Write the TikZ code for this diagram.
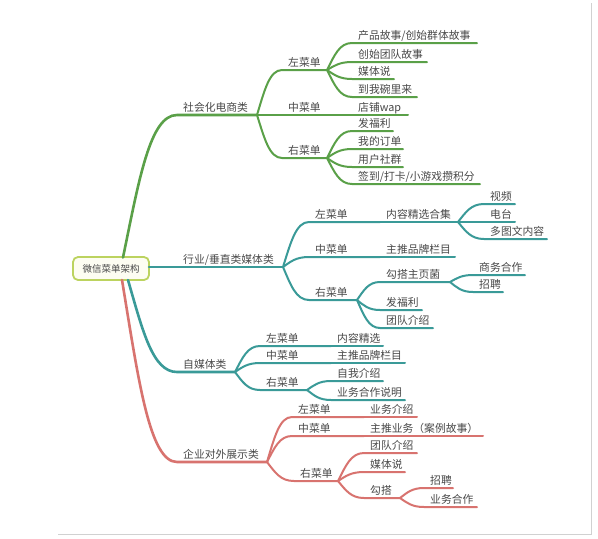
\documentclass[tikz,border=0pt]{standalone}
\usepackage{fontspec}
\setmainfont{Noto Sans CJK SC}
\usetikzlibrary{calc}
\definecolor{cg}{HTML}{5AA048}
\definecolor{ct}{HTML}{3A9A98}
\definecolor{cr}{HTML}{D8736F}
\definecolor{ctxt}{HTML}{484848}
\definecolor{rootline}{HTML}{BCD35F}
\definecolor{rootfill}{HTML}{FDFDF2}
\tikzset{
  mm/.style={to path={let \p1=(\tikztostart),\p2=(\tikztotarget) in
     .. controls ({\x1+0.3*(\x2-\x1)},{\y1+0.55*(\y2-\y1)}) and ({\x1+0.5*(\x2-\x1)},\y2) .. (\tikztotarget) \tikztonodes}},
  lbl/.style={font=\fontsize{10.8}{12}\selectfont, text=ctxt, inner sep=0pt, anchor=base west},
  big/.style={line width=2.6pt, line cap=round},
  small/.style={line width=2pt, line cap=round},
  rootbox/.style={draw=rootline, line width=1.8pt, fill=rootfill, rounded corners=5pt,
     minimum width=76pt, minimum height=23pt, inner sep=1pt, text=ctxt,
     font=\fontsize{9.5}{10}\selectfont}
}
% #1 style, #2 parent coordinate, #3 name, #4 corner x, #5 y, #6 end x, #7 text
\newcommand\mmleaf[7]{%
  \coordinate (#3s) at (#4,#5);
  \coordinate (#3e) at (#6,#5);
  \node[lbl] (#3) at ({#4+6},{#5-4}) {#7};
  \draw[#1] (#2) to[mm] (#3s) -- (#3e);
}
\begin{document}
\begin{tikzpicture}[x=1pt,y=-1pt]
\fill[white] (0,0) rectangle (598,539);
\useasboundingbox (0,0) rectangle (598,539);
\draw[black!18, line width=1pt] (591,3) -- (591,534) -- (58,534);
% root
\node[rootbox] (root) at (111,268.5) {微信菜单架构};
\coordinate (rg) at (123,257.5);
\coordinate (rt) at (149,267);
\coordinate (rs) at (128,280);
\coordinate (rr) at (122,280);
% ---------- green
\mmleaf{cg,big}{rg}{S1}{177}{115}{257}{社会化电商类}
\mmleaf{cg,small}{S1e}{L1}{282}{70}{327}{左菜单}
\mmleaf{cg,small}{L1e}{a1}{352}{43}{477}{产品故事/创始群体故事}
\mmleaf{cg,small}{L1e}{a2}{352}{62}{427}{创始团队故事}
\mmleaf{cg,small}{L1e}{a3}{352}{79}{394}{媒体说}
\mmleaf{cg,small}{L1e}{a4}{352}{97}{417}{到我碗里来}
\mmleaf{cg,small}{S1e}{M1}{282}{115}{327}{中菜单}
\mmleaf{cg,small}{M1e}{b1}{352}{115}{408}{店铺wap}
\mmleaf{cg,small}{S1e}{R1}{282}{158}{327}{右菜单}
\mmleaf{cg,small}{R1e}{c1}{352}{131}{393}{发福利}
\mmleaf{cg,small}{R1e}{c2}{352}{149}{403}{我的订单}
\mmleaf{cg,small}{R1e}{c3}{352}{167}{403}{用户社群}
\mmleaf{cg,small}{R1e}{c4}{352}{184}{480}{签到/打卡/小游戏攒积分}
% ---------- teal: 行业
\mmleaf{ct,big}{rt}{S2}{177}{267}{283}{行业/垂直类媒体类}
\mmleaf{ct,small}{S2e}{L2}{309}{222}{380}{左菜单}
\mmleaf{ct,small}{L2e}{d1}{380}{222}{458}{内容精选合集}
\mmleaf{ct,small}{d1e}{d11}{484}{204}{515}{视频}
\mmleaf{ct,small}{d1e}{d12}{484}{222}{515}{电台}
\mmleaf{ct,small}{d1e}{d13}{484}{239}{547}{多图文内容}
\mmleaf{ct,small}{S2e}{M2}{309}{257}{380}{中菜单}
\mmleaf{ct,small}{M2e}{e1}{380}{257}{455}{主推品牌栏目}
\mmleaf{ct,small}{S2e}{R2}{309}{300}{357}{右菜单}
\mmleaf{ct,small}{R2e}{f1}{380}{282}{450}{勾搭主页菌}
\mmleaf{ct,small}{f1e}{f11}{473}{275}{525}{商务合作}
\mmleaf{ct,small}{f1e}{f12}{473}{292}{503}{招聘}
\mmleaf{ct,small}{R2e}{f2}{380}{310}{422}{发福利}
\mmleaf{ct,small}{R2e}{f3}{380}{328}{433}{团队介绍}
% ---------- teal: 自媒体类
\mmleaf{ct,big}{rs}{S3}{177}{372}{235}{自媒体类}
\mmleaf{ct,small}{S3e}{L3}{260}{346}{331}{左菜单}
\mmleaf{ct,small}{L3e}{g1}{331}{346}{383}{内容精选}
\mmleaf{ct,small}{S3e}{M3}{260}{363}{331}{中菜单}
\mmleaf{ct,small}{M3e}{h1}{331}{363}{405}{主推品牌栏目}
\mmleaf{ct,small}{S3e}{R3}{260}{390}{307}{右菜单}
\mmleaf{ct,small}{R3e}{i1}{331}{381}{383}{自我介绍}
\mmleaf{ct,small}{R3e}{i2}{331}{400}{405}{业务合作说明}
% ---------- red
\mmleaf{cr,big}{rr}{S4}{177}{462}{267}{企业对外展示类}
\mmleaf{cr,small}{S4e}{L4}{292}{417}{364}{左菜单}
\mmleaf{cr,small}{L4e}{j1}{364}{417}{417}{业务介绍}
\mmleaf{cr,small}{S4e}{M4}{292}{436}{364}{中菜单}
\mmleaf{cr,small}{M4e}{k1}{364}{436}{483}{主推业务（案例故事）}
\mmleaf{cr,small}{S4e}{R4}{294}{481}{338}{右菜单}
\mmleaf{cr,small}{R4e}{l1}{364}{453}{417}{团队介绍}
\mmleaf{cr,small}{R4e}{l2}{364}{472}{405}{媒体说}
\mmleaf{cr,small}{R4e}{l3}{364}{498}{400}{勾搭}
\mmleaf{cr,small}{l3e}{l31}{424}{488}{453}{招聘}
\mmleaf{cr,small}{l3e}{l32}{424}{507}{477}{业务合作}
\end{tikzpicture}
\end{document}
